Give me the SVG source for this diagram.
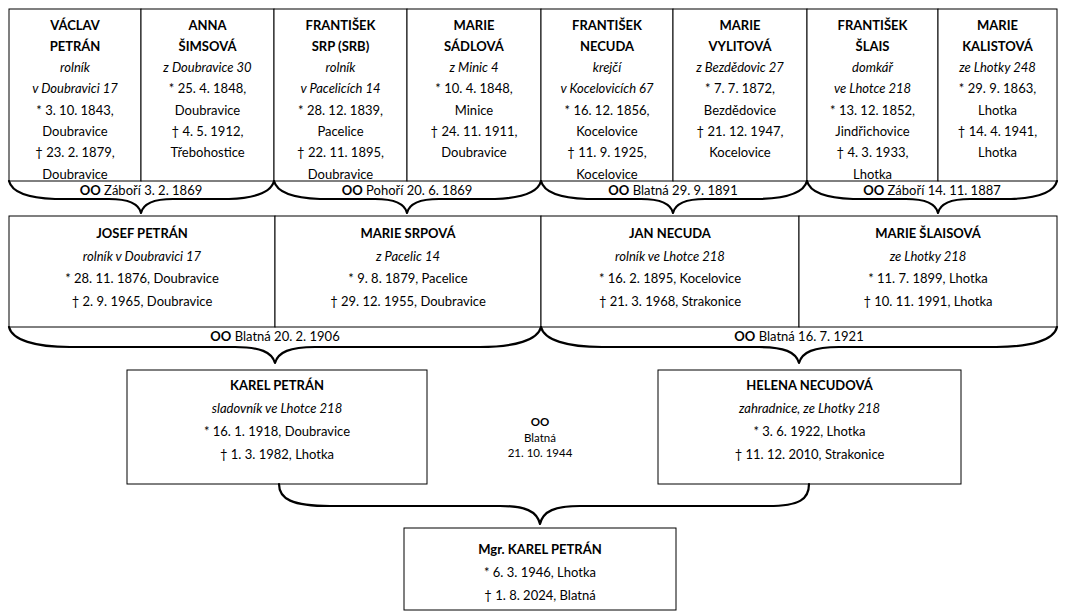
<svg xmlns="http://www.w3.org/2000/svg" width="1066" height="613" viewBox="0 0 1066 613">
<style>
.box{fill:#fff;stroke:#000;stroke-width:1}
.t{font-family:Lato,"Liberation Sans",sans-serif;font-size:13px;text-anchor:middle;fill:#000}
.b{font-weight:bold}
.i{font-style:italic}
.s{font-size:11.5px}
.brace{fill:none;stroke:#000;stroke-width:2.2;stroke-linecap:round;stroke-linejoin:round}
</style>
<rect width="1066" height="613" fill="#fff"/>

<!-- Generation 1 -->
<g id="vaclav-petran">
<rect class="box" x="9" y="9" width="132" height="172"/>
<text class="t" y="29.5"><tspan class="b" x="75">VÁCLAV</tspan><tspan class="b" x="75" dy="21.3">PETRÁN</tspan><tspan class="i" x="75" dy="21.3">rolník</tspan><tspan class="i" x="75" dy="21.3">v Doubravici 17</tspan><tspan x="75" dy="21.3">* 3. 10. 1843,</tspan><tspan x="75" dy="21.3">Doubravice</tspan><tspan x="75" dy="21.3">† 23. 2. 1879,</tspan><tspan x="75" dy="21.3">Doubravice</tspan></text>
</g>
<g id="anna-simsova">
<rect class="box" x="141" y="9" width="133" height="172"/>
<text class="t" y="29.5"><tspan class="b" x="207.5">ANNA</tspan><tspan class="b" x="207.5" dy="21.3">ŠIMSOVÁ</tspan><tspan class="i" x="207.5" dy="21.3">z Doubravice 30</tspan><tspan x="207.5" dy="21.3">* 25. 4. 1848,</tspan><tspan x="207.5" dy="21.3">Doubravice</tspan><tspan x="207.5" dy="21.3">† 4. 5. 1912,</tspan><tspan x="207.5" dy="21.3">Třebohostice</tspan></text>
</g>
<g id="frantisek-srp">
<rect class="box" x="274" y="9" width="133" height="172"/>
<text class="t" y="29.5"><tspan class="b" x="340.5">FRANTIŠEK</tspan><tspan class="b" x="340.5" dy="21.3">SRP (SRB)</tspan><tspan class="i" x="340.5" dy="21.3">rolník</tspan><tspan class="i" x="340.5" dy="21.3">v Pacelicích 14</tspan><tspan x="340.5" dy="21.3">* 28. 12. 1839,</tspan><tspan x="340.5" dy="21.3">Pacelice</tspan><tspan x="340.5" dy="21.3">† 22. 11. 1895,</tspan><tspan x="340.5" dy="21.3">Doubravice</tspan></text>
</g>
<g id="marie-sadlova">
<rect class="box" x="407" y="9" width="134" height="172"/>
<text class="t" y="29.5"><tspan class="b" x="474">MARIE</tspan><tspan class="b" x="474" dy="21.3">SÁDLOVÁ</tspan><tspan class="i" x="474" dy="21.3">z Minic 4</tspan><tspan x="474" dy="21.3">* 10. 4. 1848,</tspan><tspan x="474" dy="21.3">Minice</tspan><tspan x="474" dy="21.3">† 24. 11. 1911,</tspan><tspan x="474" dy="21.3">Doubravice</tspan></text>
</g>
<g id="frantisek-necuda">
<rect class="box" x="541" y="9" width="132" height="172"/>
<text class="t" y="29.5"><tspan class="b" x="607">FRANTIŠEK</tspan><tspan class="b" x="607" dy="21.3">NECUDA</tspan><tspan class="i" x="607" dy="21.3">krejčí</tspan><tspan class="i" x="607" dy="21.3">v Kocelovicích 67</tspan><tspan x="607" dy="21.3">* 16. 12. 1856,</tspan><tspan x="607" dy="21.3">Kocelovice</tspan><tspan x="607" dy="21.3">† 11. 9. 1925,</tspan><tspan x="607" dy="21.3">Kocelovice</tspan></text>
</g>
<g id="marie-vylitova">
<rect class="box" x="673" y="9" width="134" height="172"/>
<text class="t" y="29.5"><tspan class="b" x="740">MARIE</tspan><tspan class="b" x="740" dy="21.3">VYLITOVÁ</tspan><tspan class="i" x="740" dy="21.3">z Bezdědovic 27</tspan><tspan x="740" dy="21.3">* 7. 7. 1872,</tspan><tspan x="740" dy="21.3">Bezdědovice</tspan><tspan x="740" dy="21.3">† 21. 12. 1947,</tspan><tspan x="740" dy="21.3">Kocelovice</tspan></text>
</g>
<g id="frantisek-slais">
<rect class="box" x="807" y="9" width="131" height="172"/>
<text class="t" y="29.5"><tspan class="b" x="872.5">FRANTIŠEK</tspan><tspan class="b" x="872.5" dy="21.3">ŠLAIS</tspan><tspan class="i" x="872.5" dy="21.3">domkář</tspan><tspan class="i" x="872.5" dy="21.3">ve Lhotce 218</tspan><tspan x="872.5" dy="21.3">* 13. 12. 1852,</tspan><tspan x="872.5" dy="21.3">Jindřichovice</tspan><tspan x="872.5" dy="21.3">† 4. 3. 1933,</tspan><tspan x="872.5" dy="21.3">Lhotka</tspan></text>
</g>
<g id="marie-kalistova">
<rect class="box" x="938" y="9" width="119" height="172"/>
<text class="t" y="29.5"><tspan class="b" x="997.5">MARIE</tspan><tspan class="b" x="997.5" dy="21.3">KALISTOVÁ</tspan><tspan class="i" x="997.5" dy="21.3">ze Lhotky 248</tspan><tspan x="997.5" dy="21.3">* 29. 9. 1863,</tspan><tspan x="997.5" dy="21.3">Lhotka</tspan><tspan x="997.5" dy="21.3">† 14. 4. 1941,</tspan><tspan x="997.5" dy="21.3">Lhotka</tspan></text>
</g>

<!-- Generation 2 -->
<g id="josef-petran">
<rect class="box" x="9" y="216" width="266" height="111"/>
<text class="t" y="238"><tspan class="b" x="142">JOSEF PETRÁN</tspan><tspan class="i" x="142" dy="22.7">rolník v Doubravici 17</tspan><tspan x="142" dy="22.7">* 28. 11. 1876, Doubravice</tspan><tspan x="142" dy="22.7">† 2. 9. 1965, Doubravice</tspan></text>
</g>
<g id="marie-srpova">
<rect class="box" x="275" y="216" width="266" height="111"/>
<text class="t" y="238"><tspan class="b" x="408">MARIE SRPOVÁ</tspan><tspan class="i" x="408" dy="22.7">z Pacelic 14</tspan><tspan x="408" dy="22.7">* 9. 8. 1879, Pacelice</tspan><tspan x="408" dy="22.7">† 29. 12. 1955, Doubravice</tspan></text>
</g>
<g id="jan-necuda">
<rect class="box" x="541" y="216" width="258" height="111"/>
<text class="t" y="238"><tspan class="b" x="670">JAN NECUDA</tspan><tspan class="i" x="670" dy="22.7">rolník ve Lhotce 218</tspan><tspan x="670" dy="22.7">* 16. 2. 1895, Kocelovice</tspan><tspan x="670" dy="22.7">† 21. 3. 1968, Strakonice</tspan></text>
</g>
<g id="marie-slaisova">
<rect class="box" x="799" y="216" width="258" height="111"/>
<text class="t" y="238"><tspan class="b" x="928">MARIE ŠLAISOVÁ</tspan><tspan class="i" x="928" dy="22.7">ze Lhotky 218</tspan><tspan x="928" dy="22.7">* 11. 7. 1899, Lhotka</tspan><tspan x="928" dy="22.7">† 10. 11. 1991, Lhotka</tspan></text>
</g>

<!-- Generation 3 -->
<g id="karel-petran">
<rect class="box" x="127" y="370" width="300" height="114"/>
<text class="t" y="390"><tspan class="b" x="277">KAREL PETRÁN</tspan><tspan class="i" x="277" dy="23">sladovník ve Lhotce 218</tspan><tspan x="277" dy="23">* 16. 1. 1918, Doubravice</tspan><tspan x="277" dy="23">† 1. 3. 1982, Lhotka</tspan></text>
</g>
<g id="helena-necudova">
<rect class="box" x="658" y="370" width="303" height="114"/>
<text class="t" y="390"><tspan class="b" x="809.5">HELENA NECUDOVÁ</tspan><tspan class="i" x="809.5" dy="23">zahradnice, ze Lhotky 218</tspan><tspan x="809.5" dy="23">* 3. 6. 1922, Lhotka</tspan><tspan x="809.5" dy="23">† 11. 12. 2010, Strakonice</tspan></text>
</g>

<!-- Generation 4 -->
<g id="mgr-karel-petran">
<rect class="box" x="404" y="528" width="272" height="82"/>
<text class="t" y="554"><tspan class="b" x="540">Mgr. KAREL PETRÁN</tspan><tspan x="540" dy="23">* 6. 3. 1946, Lhotka</tspan><tspan x="540" dy="23">† 1. 8. 2024, Blatná</tspan></text>
</g>

<!-- Connectors (marriage braces) -->
<g id="connectors">
<path class="brace" d="M9 181 C12 193,29 198,55 199 L109 199 C129 199,139 204,141 213 C143 204,153 199,173 199 L229 199 C255 198,271 193,274 181"/>
<path class="brace" d="M274 181 C277 193,294 198,320 199 L375 199 C395 199,405 204,407 213 C409 204,419 199,439 199 L495 199 C521 198,538 193,541 181"/>
<path class="brace" d="M541 181 C544 193,561 198,587 199 L641 199 C661 199,671 204,673 213 C675 204,685 199,705 199 L761 199 C787 198,804 193,807 181"/>
<path class="brace" d="M807 181 C810 193,827 198,853 199 L906 199 C926 199,936 204,938 213 C940 204,950 199,970 199 L1011 199 C1037 198,1054 193,1057 181"/>
<path class="brace" d="M9 327 C12 340,35 347,70 347 L235 347 C260 347,272 352,275 363 C278 352,290 347,315 347 L480 347 C515 347,538 340,541 327"/>
<path class="brace" d="M541 327 C544 340,567 347,602 347 L759 347 C784 347,796 352,799 363 C802 352,814 347,839 347 L996 347 C1031 347,1054 340,1057 327"/>
<path class="brace" d="M279 484 C279 499,292 506,330 506 L500 506 C525 506,537 511,540 524 C543 511,555 506,580 506 L768 506 C800 506,809 499,809 484"/>
</g>

<!-- Marriage labels -->
<g id="marriage-labels">
<text class="t" x="141" y="195"><tspan class="b">OO</tspan> Záboří 3. 2. 1869</text>
<text class="t" x="407" y="195"><tspan class="b">OO</tspan> Pohoří 20. 6. 1869</text>
<text class="t" x="673" y="195"><tspan class="b">OO</tspan> Blatná 29. 9. 1891</text>
<text class="t" x="932" y="195"><tspan class="b">OO</tspan> Záboří 14. 11. 1887</text>
<text class="t" x="275" y="341"><tspan class="b">OO</tspan> Blatná 20. 2. 1906</text>
<text class="t" x="799" y="341"><tspan class="b">OO</tspan> Blatná 16. 7. 1921</text>
<text class="t s" y="426"><tspan class="b" x="540">OO</tspan><tspan x="540" dy="15.5">Blatná</tspan><tspan x="540" dy="15.5">21. 10. 1944</tspan></text>
</g>
</svg>
